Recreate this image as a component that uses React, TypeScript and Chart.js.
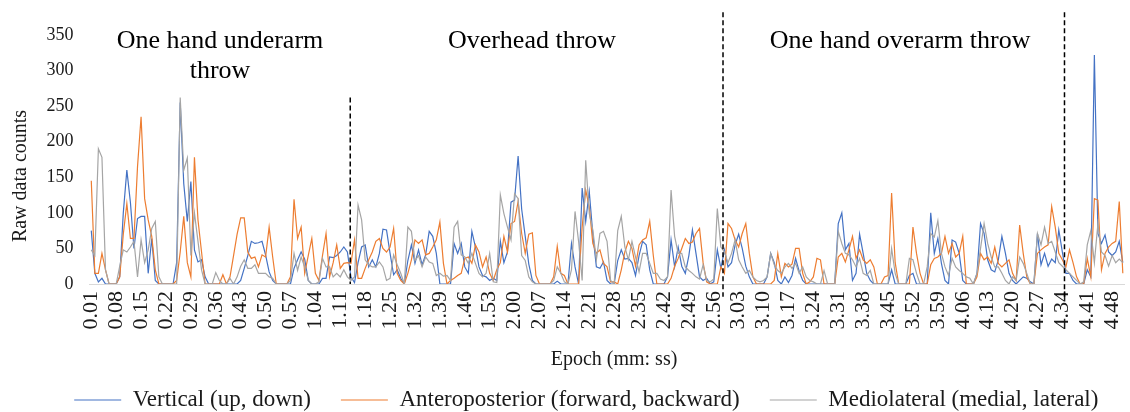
import React, { useEffect, useRef } from "react";
import { Chart, registerables } from "chart.js";

Chart.register(...registerables);

// ---------- DATA ----------
// Epochs: one per second, from 0:01 to 4:51 (label format m.ss)
const FIRST_SECOND = 1;
const EPOCH_COUNT = 291;
const EPOCHS: string[] = Array.from({ length: EPOCH_COUNT }, (_, k) => {
  const s = FIRST_SECOND + k;
  return `${Math.floor(s / 60)}.${String(s % 60).padStart(2, "0")}`;
});

const TICK_LABELS: string[] = [
  "0.01", "0.08", "0.15", "0.22", "0.29", "0.36", "0.43", "0.50", "0.57",
  "1.04", "1.11", "1.18", "1.25", "1.32", "1.39", "1.46", "1.53",
  "2.00", "2.07", "2.14", "2.21", "2.28", "2.35", "2.42", "2.49", "2.56",
  "3.03", "3.10", "3.17", "3.24", "3.31", "3.38", "3.45", "3.52", "3.59",
  "4.06", "4.13", "4.20", "4.27", "4.34", "4.41", "4.48",
];

const VERTICAL: number[] = [
  75, 15, 3, 8, 0, 0, 0, 0, 10, 100,
  160, 115, 50, 92, 95, 95, 15, 64, 5, 0,
  0, 0, 0, 0, 30, 255, 141, 88, 144, 48,
  31, 34, 10, 0, 0, 0, 0, 0, 0, 0,
  0, 0, 5, 22, 40, 60, 57, 58, 60, 41,
  17, 5, 0, 0, 0, 0, 0, 22, 34, 45,
  35, 5, 0, 0, 0, 8, 8, 38, 37, 40,
  45, 52, 45, 10, 2, 30, 52, 55, 24, 34,
  24, 43, 77, 76, 43, 13, 20, 8, 0, 33,
  55, 29, 48, 27, 41, 74, 67, 43, 0, 0,
  0, 0, 57, 43, 57, 24, 15, 74, 52, 24,
  12, 10, 5, 8, 5, 60, 30, 45, 115, 118,
  180, 105, 67, 28, 5, 0, 0, 0, 0, 0,
  0, 4, 0, 0, 0, 57, 24, 0, 135, 88,
  130, 70, 24, 22, 31, 5, 0, 0, 33, 48,
  35, 36, 30, 12, 40, 60, 55, 20, 0, 0,
  0, 0, 10, 62, 24, 52, 25, 15, 40, 76,
  43, 10, 5, 8, 0, 3, 48, 22, 48, 24,
  30, 55, 70, 50, 25, 10, 0, 0, 0, 0,
  10, 43, 30, 5, 0, 10, 2, 12, 36, 18,
  5, 0, 0, 0, 0, 0, 0, 0, 0, 0,
  85, 100, 48, 57, 5, 15, 70, 43, 15, 5,
  0, 0, 0, 0, 0, 20, 0, 0, 0, 0,
  12, 15, 0, 0, 0, 0, 100, 43, 64, 29,
  5, 0, 62, 59, 43, 5, 0, 0, 0, 15,
  85, 71, 34, 20, 17, 34, 67, 43, 15, 5,
  0, 5, 10, 8, 3, 0, 71, 27, 43, 25,
  35, 30, 76, 45, 15, 15, 5, 0, 0, 0,
  20, 10, 322, 71, 57, 69, 45, 40, 45, 60,
  30,
];

const ANTEROPOSTERIOR: number[] = [
  145, 15, 15, 43, 20, 0, 0, 0, 10, 70,
  113, 64, 64, 165, 235, 120, 90, 67, 20, 0,
  0, 0, 0, 0, 5, 45, 95, 30, 10, 178,
  90, 45, 0, 0, 0, 0, 0, 13, 0, 10,
  40, 70, 93, 93, 45, 36, 38, 24, 41, 38,
  80, 38, 0, 0, 0, 0, 10, 119, 64, 80,
  15, 40, 64, 15, 5, 40, 71, 10, 30, 55,
  22, 29, 30, 29, 62, 8, 8, 22, 34, 45,
  60, 64, 50, 45, 52, 78, 15, 5, 0, 15,
  34, 62, 57, 62, 41, 43, 52, 62, 87, 29,
  0, 5, 8, 12, 15, 36, 38, 29, 55, 45,
  24, 38, 15, 5, 20, 30, 67, 45, 85, 88,
  116, 71, 43, 70, 72, 12, 0, 0, 0, 0,
  10, 53, 15, 12, 0, 0, 0, 0, 80, 132,
  108, 57, 43, 48, 29, 24, 3, 3, 0, 20,
  45, 60, 50, 25, 55, 62, 65, 88, 40, 0,
  0, 0, 0, 8, 25, 36, 50, 64, 57, 59,
  71, 78, 30, 3, 0, 0, 0, 24, 15, 85,
  78, 62, 52, 71, 85, 43, 10, 0, 0, 0,
  0, 0, 5, 43, 10, 29, 24, 28, 50, 50,
  15, 0, 3, 10, 36, 34, 0, 0, 0, 0,
  38, 43, 31, 48, 67, 36, 48, 34, 29, 34,
  24, 0, 0, 10, 12, 128, 30, 0, 0, 0,
  0, 80, 43, 15, 0, 0, 27, 36, 38, 43,
  67, 43, 57, 38, 43, 67, 0, 0, 0, 10,
  43, 34, 38, 29, 52, 29, 24, 29, 34, 15,
  5, 83, 43, 10, 0, 0, 43, 48, 52, 55,
  109, 80, 43, 34, 24, 48, 30, 10, 0, 0,
  36, 10, 120, 118, 20, 43, 52, 57, 60, 116,
  15,
];

const MEDIOLATERAL: number[] = [
  48, 40, 190, 178, 20, 0, 0, 0, 25, 48,
  45, 52, 60, 10, 62, 30, 48, 78, 88, 10,
  0, 0, 0, 0, 0, 262, 160, 177, 40, 100,
  60, 20, 0, 0, 0, 16, 5, 0, 0, 8,
  0, 10, 25, 34, 22, 22, 27, 15, 15, 15,
  10, 8, 0, 0, 0, 0, 5, 43, 19, 38,
  24, 5, 0, 0, 3, 36, 24, 24, 10, 15,
  10, 20, 10, 5, 10, 111, 90, 34, 27, 24,
  24, 31, 24, 5, 8, 41, 27, 15, 0, 80,
  74, 33, 40, 24, 38, 31, 29, 12, 15, 11,
  12, 5, 80, 88, 41, 38, 29, 43, 29, 15,
  10, 15, 43, 3, 2, 125, 99, 80, 62, 127,
  120, 40, 33, 10, 3, 0, 0, 0, 0, 0,
  5, 24, 15, 3, 0, 20, 102, 60, 5, 174,
  99, 76, 34, 71, 74, 60, 5, 0, 75, 95,
  52, 34, 60, 38, 17, 43, 43, 29, 15, 15,
  7, 5, 10, 132, 67, 43, 43, 24, 19, 15,
  10, 7, 27, 5, 3, 7, 106, 52, 45, 30,
  43, 62, 34, 24, 15, 19, 10, 5, 3, 5,
  10, 43, 27, 19, 15, 24, 29, 22, 29, 15,
  24, 10, 5, 3, 0, 0, 19, 0, 0, 0,
  74, 57, 43, 41, 34, 24, 36, 15, 12, 19,
  0, 0, 0, 0, 0, 50, 15, 0, 0, 0,
  36, 34, 15, 0, 0, 24, 71, 66, 89, 43,
  24, 12, 36, 24, 19, 15, 10, 8, 0, 15,
  50, 85, 57, 38, 24, 24, 15, 5, 0, 10,
  5, 38, 29, 15, 0, 0, 71, 55, 80, 57,
  60, 45, 30, 25, 20, 15, 10, 5, 0, 3,
  55, 75, 30, 85, 45, 40, 25, 40, 30, 35,
  30,
];

const SERIES_NAMES: string[] = [
  "Vertical (up, down)",
  "Anteroposterior (forward, backward)",
  "Mediolateral (medial, lateral)",
];

const Y_TITLE = "Raw data counts";
const X_TITLE = "Epoch (mm: ss)";
const PHASE_TITLES: string[][] = [["One hand underarm", "throw"], ["Overhead throw"], ["One hand overarm throw"]];

// ---------- STYLE / LAYOUT ----------
const COLORS = ["#4472C4", "#ED7D31", "#A5A5A5"];
const FONT = '"Liberation Serif", "Times New Roman", serif';
const TEXT_COLOR = "#1a1a1a";

// phase titles anchored in data space (category position, value)
const PHASE_ANCHORS = [
  { epoch: 36.2, value: 342 },
  { epoch: 123.9, value: 342 },
  { epoch: 227.4, value: 342 },
];
// dashed phase dividers (category position, value range)
const DIVIDERS = [
  { epoch: 72.8, top: 262, bottom: 0 },
  { epoch: 177.6, top: 382, bottom: -18 },
  { epoch: 273.6, top: 382, bottom: -18 },
];

const TICK_SET = new Set(TICK_LABELS);

const overlayPlugin = {
  id: "overlay",
  afterLayout(chart: any) {
    const lg = chart.legend;
    if (lg) {
      lg.left += 24;
      lg.right += 24;
    }
  },
  afterDatasetsDraw(chart: any) {
    const { ctx, scales, chartArea } = chart;
    const x = scales.x;
    const y = scales.y;
    ctx.save();
    // dividers
    ctx.strokeStyle = "#000";
    ctx.lineWidth = 1.5;
    ctx.setLineDash([5, 3]);
    DIVIDERS.forEach((d) => {
      const px = x.getPixelForValue(d.epoch);
      ctx.beginPath();
      ctx.moveTo(px, y.getPixelForValue(d.top));
      ctx.lineTo(px, y.getPixelForValue(d.bottom));
      ctx.stroke();
    });
    ctx.setLineDash([]);
    // phase titles
    ctx.fillStyle = "#000";
    ctx.font = `26px ${FONT}`;
    ctx.textAlign = "center";
    ctx.textBaseline = "middle";
    PHASE_TITLES.forEach((lines, k) => {
      const a = PHASE_ANCHORS[k];
      const px = x.getPixelForValue(a.epoch);
      const py = y.getPixelForValue(a.value);
      lines.forEach((t, j) => ctx.fillText(t, px, py + j * 30));
    });
    // axis titles
    ctx.fillStyle = TEXT_COLOR;
    ctx.font = `20px ${FONT}`;
    ctx.fillText(X_TITLE, 614, chartArea.bottom + 76);
    ctx.translate(chartArea.left - 69, chartArea.top + 141);
    ctx.rotate(-Math.PI / 2);
    ctx.fillText(Y_TITLE, 0, 0);
    ctx.restore();
  },
};

export default function App() {
  const canvasRef = useRef<HTMLCanvasElement | null>(null);

  useEffect(() => {
    document.body.style.margin = "0";
    const canvas = canvasRef.current;
    if (!canvas) return;
    const seriesValues = [VERTICAL, ANTEROPOSTERIOR, MEDIOLATERAL];
    const chart = new Chart(canvas, {
      type: "line",
      data: {
        labels: EPOCHS,
        datasets: seriesValues.map((vals, k) => ({
          label: SERIES_NAMES[k],
          data: vals,
          borderColor: COLORS[k],
          backgroundColor: COLORS[k],
          borderWidth: 1.2,
          pointRadius: 0,
          tension: 0,
          fill: false,
          order: 3 - k,
        })),
      },
      options: {
        animation: false,
        responsive: true,
        maintainAspectRatio: false,
        events: [],
        layout: { padding: { top: 35, left: 0, right: 5.4, bottom: -9.5 } },
        plugins: {
          tooltip: { enabled: false },
          legend: {
            position: "bottom",
            labels: {
              boxWidth: 47,
              boxHeight: 0,
              padding: 30,
              color: TEXT_COLOR,
              font: { family: FONT, size: 23 },
              sort: (a: any, b: any) => a.datasetIndex - b.datasetIndex,
            },
          },
        },
        scales: {
          x: {
            type: "category",
            offset: true,
            grid: { display: false, drawTicks: false },
            border: { display: true, color: "#D9D9D9", width: 1 },
            ticks: {
              autoSkip: false,
              minRotation: 90,
              maxRotation: 90,
              padding: 7,
              color: TEXT_COLOR,
              font: { family: FONT, size: 22 },
              callback: (_v: any, index: number) => (TICK_SET.has(EPOCHS[index]) ? EPOCHS[index] : ""),
            },
            afterFit: (scale: any) => {
              scale.height = 74.5;
              scale.paddingLeft = 0;
              scale.paddingRight = 0;
            },
          },
          y: {
            min: 0,
            max: 350,
            grid: { display: false, drawTicks: false },
            border: { display: false },
            ticks: {
              stepSize: 50,
              padding: 16,
              color: TEXT_COLOR,
              font: { family: FONT, size: 18 },
            },
            afterFit: (scale: any) => {
              scale.width = 89.5;
            },
          },
        },
      },
      plugins: [overlayPlugin],
    });
    return () => chart.destroy();
  }, []);

  return (
    <div style={{ width: "1130px", height: "412px", position: "relative" }}>
      <canvas ref={canvasRef} />
    </div>
  );
}
